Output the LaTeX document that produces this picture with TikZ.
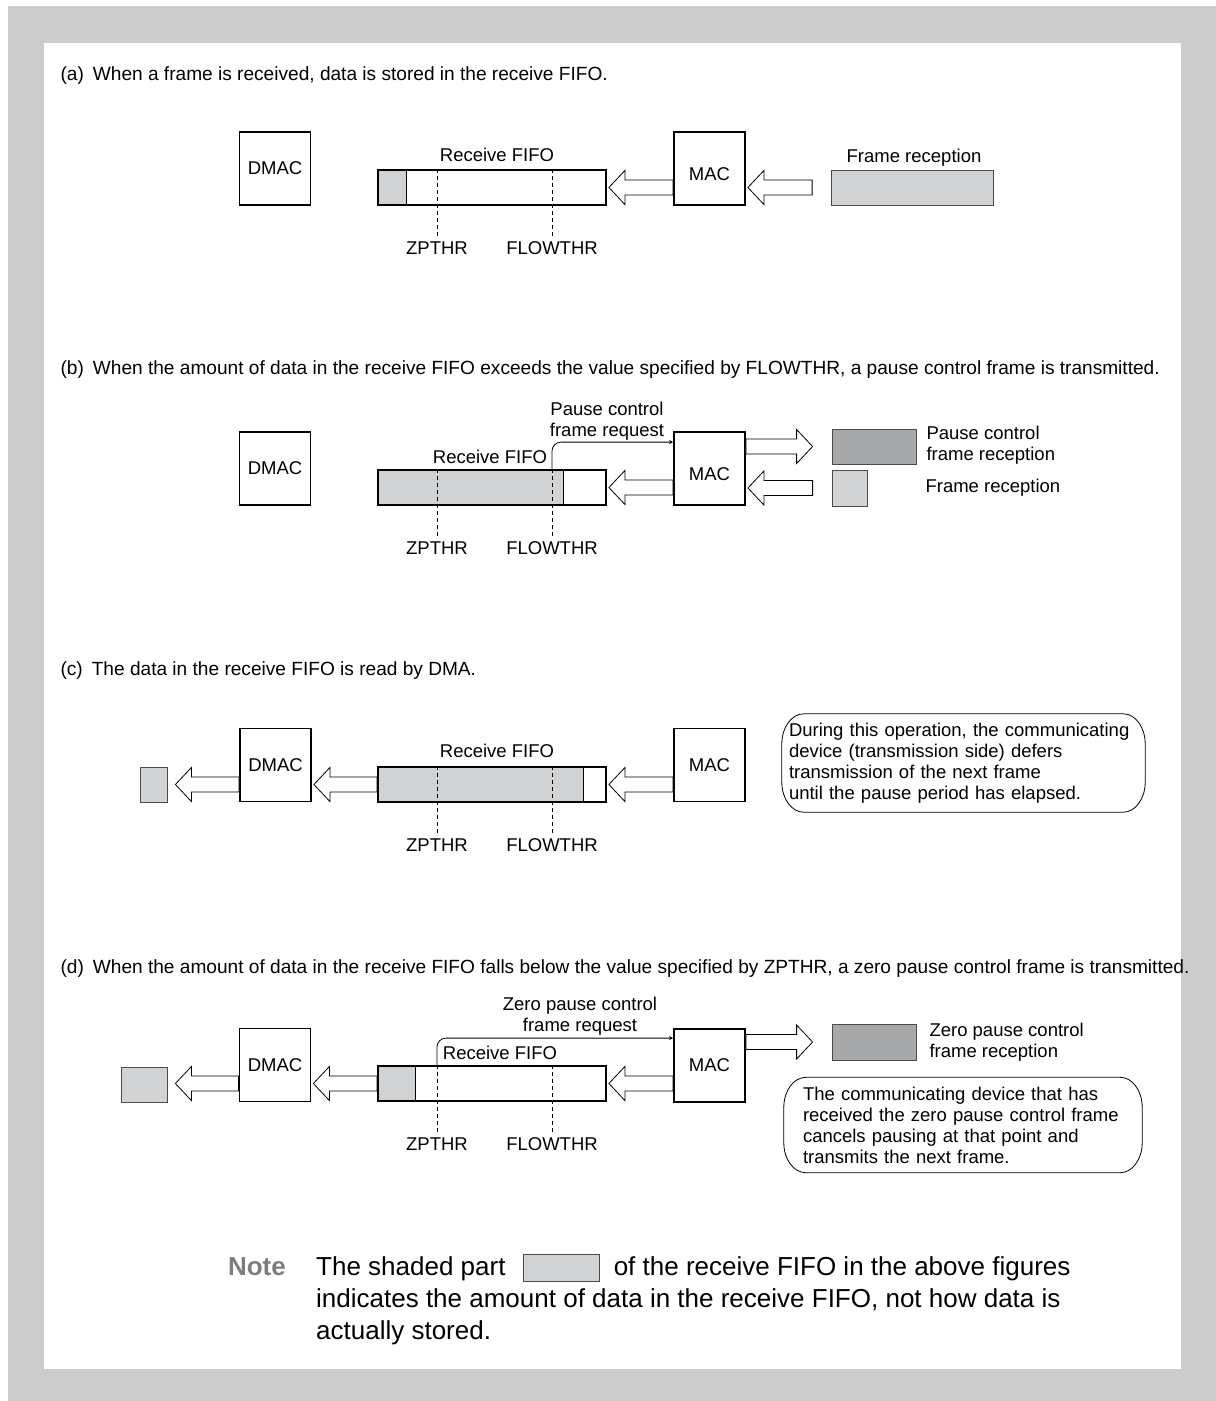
\documentclass[tikz,border=0pt]{standalone}
\usepackage{fontspec}
\setmainfont{Liberation Sans}
\usepackage{tikz}
\usetikzlibrary{calc,positioning}
\definecolor{bggray}{RGB}{204,204,204}
\definecolor{levelgray}{RGB}{209,210,212}
\definecolor{pausegray}{RGB}{167,168,170}
\definecolor{notegray}{RGB}{125,125,125}

\begin{document}
\begin{tikzpicture}[x=1pt, y=-1pt,
    font=\fontsize{18.5}{21}\selectfont,
    unit/.style={draw, line width=1.8pt, minimum width=71pt, minimum height=73pt, inner sep=0pt},
    fifo/.style={draw, line width=1.8pt, minimum width=228pt, minimum height=35pt, inner sep=0pt},
    stored/.style={path picture={
        \fill[levelgray] (path picture bounding box.south west) rectangle ([xshift=#1]path picture bounding box.north west);
        \draw[line width=0.8pt] ([xshift=#1]path picture bounding box.south west) -- ([xshift=#1]path picture bounding box.north west);}},
    datafill/.style={draw=black!70, line width=0.8pt, fill=levelgray, inner sep=0pt},
    pausefill/.style={datafill, fill=pausegray},
    thr/.style={dash pattern=on 4pt off 3pt, line width=0.7pt},
    req/.style={->, >=stealth, line width=0.8pt, rounded corners=9pt},
    hollow/.style={draw, line width=0.8pt, fill=white,
        to path={let \p1=(\tikztostart), \p2=(\tikztotarget), \n1={sign(\x2-\x1)*16} in
            ({\x1},{\y1+7.5}) -- ({\x2-(\n1)},{\y1+7.5}) -- ({\x2-(\n1)},{\y1+17}) -- ({\x2},{\y1})
            -- ({\x2-(\n1)},{\y1-17}) -- ({\x2-(\n1)},{\y1-7.5}) -- ({\x1},{\y1-7.5}) -- cycle}},
    callout/.style={align=left, inner sep=0pt},
    bubble/.style={line width=0.8pt},
    corner/.style={x radius=22pt, y radius=30pt},
    caption/.style={anchor=west, font=\fontsize{19.1}{22}\selectfont},
    notetext/.style={font=\fontsize{26}{32}\selectfont, inner sep=0pt}]

  \useasboundingbox (0,0) rectangle (1216,1401);
  \fill[bggray] (8,6) rectangle (1216,1401);
  \fill[white] (44,43) rectangle (1181,1369);

  % (a) a frame comes in
  \node[caption] (acap) at (57,76) {(a)\hspace{9pt}When a frame is received, data is stored in the receive FIFO.};
  \node[unit] (admac) at (275,168.5) {DMAC};
  \node[fifo, stored=28pt] (afifo) at (492,187.5) {};
  \node (arecv) at (497,155) {Receive FIFO};
  \node[unit, label={[yshift=-6pt]center:MAC}] (amac) at (709.5,168.5) {};
  \node[datafill, minimum width=162pt, minimum height=35pt] (aframe) at (912.5,187.5) {};
  \node (aframelbl) at (914,158) {Frame reception};
  \node (az) at (437,248) {ZPTHR};
  \node (af) at (552,248) {FLOWTHR};
  \draw[thr] (az.north |- afifo.north) -- (az.north);
  \draw[thr] (af.north |- afifo.north) -- (af.north);
  \draw[hollow] (amac.west |- afifo.east) to ([xshift=2pt]afifo.east);
  \draw[hollow] ([xshift=-19pt]aframe.west) to ([xshift=2pt]amac.east |- aframe.west);

  % (b) FLOWTHR reached, pause frame goes out
  \node[caption] (bcap) at (57,370) {(b)\hspace{9pt}When the amount of data in the receive FIFO exceeds the value specified by FLOWTHR, a pause control frame is transmitted.};
  \node[unit] (bdmac) at (275,468.5) {DMAC};
  \node[fifo, stored=185pt] (bfifo) at (492,487.5) {};
  \node (brecv) at (490,457) {Receive FIFO};
  \node[unit, label={[yshift=-6pt]center:MAC}] (bmac) at (709.5,468.5) {};
  \node[pausefill, minimum width=84pt, minimum height=35pt] (bpause) at (874,446.5) {};
  \node[datafill, minimum width=35pt, minimum height=36pt] (bframe) at (849.5,488) {};
  \node[anchor=west, align=left] (bpauselbl) at (923,445) {Pause control\\frame reception};
  \node[anchor=west] (bframelbl) at (922,488) {Frame reception};
  \node (bz) at (437,548) {ZPTHR};
  \node (bf) at (552,548) {FLOWTHR};
  \draw[thr] (bz.north |- bfifo.north) -- (bz.north);
  \draw[thr] (bf.north |- bfifo.north) -- (bf.north);
  \node[align=center] (breq) at (607,421) {Pause control\\frame request};
  \draw[req] (bf.north |- bfifo.north) |- ([yshift=-11pt]bmac.north west);
  \draw[hollow] (bmac.west |- bfifo.east) to ([xshift=2pt]bfifo.east);
  \draw[hollow] (bmac.east |- bpause.west) to ([xshift=-19pt]bpause.west);
  \draw[hollow] ([xshift=-19pt]bframe.west) to ([xshift=2pt]bmac.east |- bframe.west);

  % (c) DMA drains the FIFO
  \node[caption] (ccap) at (57,671) {(c)\hspace{9pt}The data in the receive FIFO is read by DMA.};
  \node[datafill, minimum width=27pt, minimum height=35pt] (cdata) at (153.5,784.5) {};
  \node[unit] (cdmac) at (275.5,765) {DMAC};
  \node[fifo, stored=205pt] (cfifo) at (492,784.5) {};
  \node (crecv) at (497,751) {Receive FIFO};
  \node[unit] (cmac) at (709.5,765) {MAC};
  \node (cz) at (437,845) {ZPTHR};
  \node (cf) at (552,845) {FLOWTHR};
  \draw[thr] (cz.north |- cfifo.north) -- (cz.north);
  \draw[thr] (cf.north |- cfifo.north) -- (cf.north);
  \draw[hollow] (cmac.west |- cfifo.east) to ([xshift=2pt]cfifo.east);
  \draw[hollow] (cfifo.west) to ([xshift=2pt]cdmac.east |- cfifo.west);
  \draw[hollow] (cdmac.west |- cfifo.west) to ([xshift=8pt]cdata.east);
  \node[callout, minimum width=363pt, minimum height=98pt, text width=349pt] (ccall) at (963.5,763)
    {During this operation, the communicating\\device (transmission side) defers\\transmission of the next frame\\until the pause period has elapsed.};
  \draw[bubble] ([xshift=22pt]ccall.north west) -- ([xshift=-22pt]ccall.north east)
    arc[start angle=90, end angle=0, corner] -- ([yshift=30pt]ccall.south east)
    arc[start angle=0, end angle=-90, corner] -- ([xshift=22pt]ccall.south west)
    arc[start angle=270, end angle=180, corner] -- ([yshift=-30pt]ccall.north west)
    arc[start angle=180, end angle=90, corner] -- cycle;

  % (d) ZPTHR reached, zero pause frame goes out
  \node[caption] (dcap) at (57,969) {(d)\hspace{9pt}When the amount of data in the receive FIFO falls below the value specified by ZPTHR, a zero pause control frame is transmitted.};
  \node[datafill, minimum width=46pt, minimum height=35pt] (ddata) at (144,1084.5) {};
  \node[unit] (ddmac) at (275,1065) {DMAC};
  \node[fifo, stored=37pt] (dfifo) at (492,1083.5) {};
  \node (drecv) at (500,1053) {Receive FIFO};
  \node[unit] (dmac) at (709.5,1065.5) {MAC};
  \node[pausefill, minimum width=84pt, minimum height=36pt] (dpause) at (874,1042) {};
  \node[anchor=west, align=left] (dpauselbl) at (926,1042) {Zero pause control\\frame reception};
  \node (dz) at (437,1144) {ZPTHR};
  \node (df) at (552,1144) {FLOWTHR};
  \draw[thr] (dz.north |- dfifo.north) -- (dz.north);
  \draw[thr] (df.north |- dfifo.north) -- (df.north);
  \node[align=center] (dreq) at (580,1016) {Zero pause control\\frame request};
  \draw[req] (dz.north |- dfifo.north) |- ([yshift=-10pt]dmac.north west);
  \draw[hollow] (dmac.west |- dfifo.east) to ([xshift=2pt]dfifo.east);
  \draw[hollow] (dfifo.west) to ([xshift=2pt]ddmac.east |- dfifo.west);
  \draw[hollow] (ddmac.west |- dfifo.west) to ([xshift=8pt]ddata.east);
  \draw[hollow] (dmac.east |- dpause.west) to ([xshift=-19pt]dpause.west);
  \node[callout, minimum width=358pt, minimum height=95pt, text width=320pt] (dcall) at (963,1125)
    {The communicating device that has\\received the zero pause control frame\\cancels pausing at that point and\\transmits the next frame.};
  \draw[bubble] ([xshift=22pt]dcall.north west) -- ([xshift=-22pt]dcall.north east)
    arc[start angle=90, end angle=0, corner] -- ([yshift=30pt]dcall.south east)
    arc[start angle=0, end angle=-90, corner] -- ([xshift=22pt]dcall.south west)
    arc[start angle=270, end angle=180, corner] -- ([yshift=-30pt]dcall.north west)
    arc[start angle=180, end angle=90, corner] -- cycle;

  % note under the figures
  \node[anchor=base east, inner sep=0pt, font=\fontsize{26}{32}\selectfont\bfseries, text=notegray] (note) at (286,1275) {Note};
  \node[notetext, anchor=base west] (n1) at (316,1275) {The shaded part};
  \node[datafill, minimum width=76pt, minimum height=27pt, right=17pt of n1] (nbox) {};
  \node[notetext, anchor=base west] (n2) at ([xshift=14pt]nbox.east |- n1.base) {of the receive FIFO in the above figures};
  \node[notetext, anchor=base west] (n3) at (316,1307) {indicates the amount of data in the receive FIFO, not how data is};
  \node[notetext, anchor=base west] (n4) at (316,1339) {actually stored.};
\end{tikzpicture}
\end{document}
